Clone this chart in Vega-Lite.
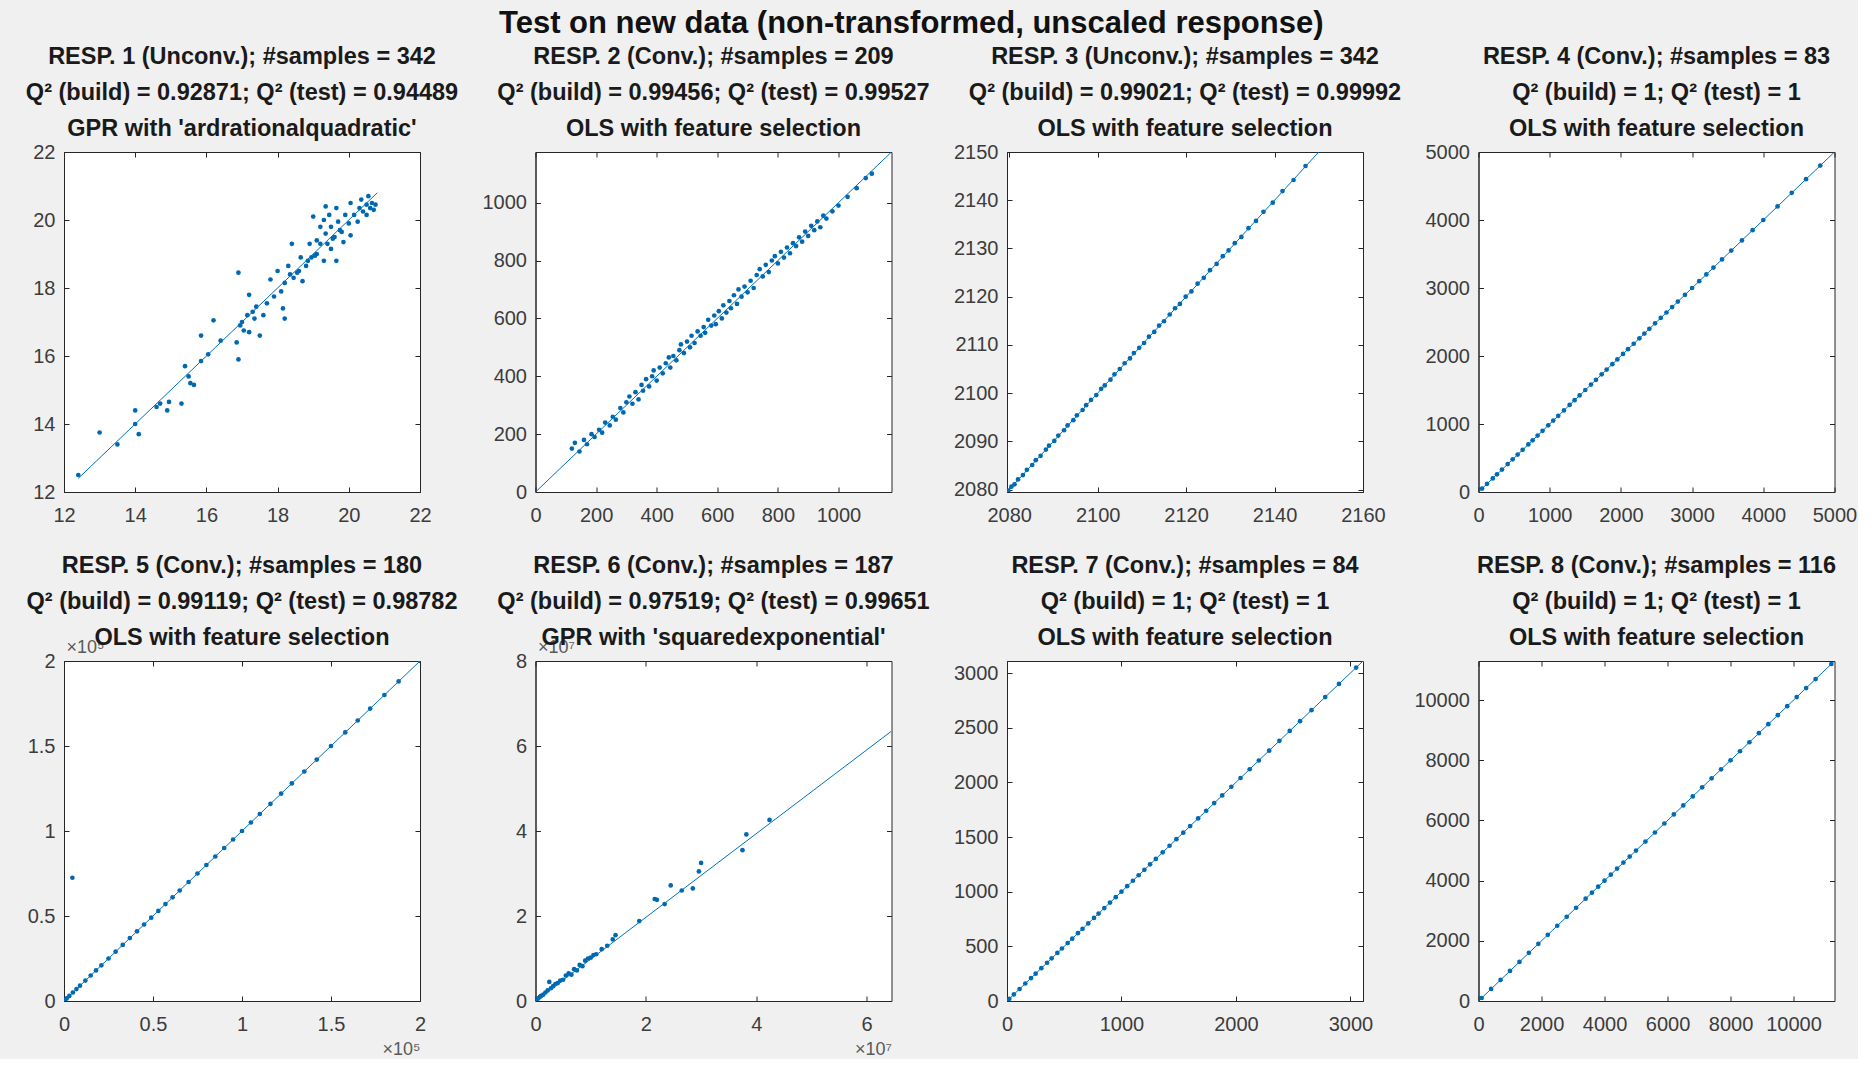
{
  "$schema": "https://vega.github.io/schema/vega-lite/v6.json",
  "background": "#f0f0f0",
  "padding": {"left": 25, "top": 8, "right": 0, "bottom": 0},
  "title": {
    "text": "Test on new data (non-transformed, unscaled response)",
    "fontSize": 31,
    "color": "#111111",
    "anchor": "middle",
    "frame": "bounds",
    "offset": 4,
    "dx": -30
  },
  "config": {
    "font": "Liberation Sans",
    "view": {"stroke": "#262626", "strokeWidth": 1, "fill": "white"},
    "title": {"font": "Liberation Sans", "fontSize": 23.5, "fontWeight": "bold", "color": "#1a1a1a", "lineHeight": 36, "offset": -12.5, "frame": "group"},
    "axis": {
      "grid": false,
      "domainColor": "#262626",
      "tickColor": "#262626",
      "tickSize": -5,
      "labelFont": "Liberation Sans",
      "labelFontSize": 20,
      "labelColor": "#3c3c3c",
      "labelFlush": false,
      "labelOverlap": false,
      "titleFont": "Liberation Sans",
      "titleFontWeight": "normal",
      "titleFontSize": 18,
      "titleColor": "#5a5a5a"
    },
    "axisX": {"labelPadding": 18},
    "axisY": {"labelPadding": 14},
    "axisTop": {"titleOpacity": 0, "titleFontSize": 4, "titlePadding": 20}
  },
  "datasets": {
    "diag": [
      {"p": 1, "x": 12.4, "y": 12.4}, {"p": 1, "x": 20.8, "y": 20.8},
      {"p": 2, "x": 0, "y": 0}, {"p": 2, "x": 1175, "y": 1175},
      {"p": 3, "x": 2079.5, "y": 2079.5}, {"p": 3, "x": 2150, "y": 2150},
      {"p": 4, "x": 0, "y": 0}, {"p": 4, "x": 5000, "y": 5000},
      {"p": 5, "x": 0, "y": 0}, {"p": 5, "x": 200000, "y": 200000},
      {"p": 6, "x": 0, "y": 0}, {"p": 6, "x": 64500000, "y": 63500000},
      {"p": 7, "x": 0, "y": 0}, {"p": 7, "x": 3110, "y": 3110},
      {"p": 8, "x": 0, "y": 0}, {"p": 8, "x": 11300, "y": 11300}
    ],
    "pts": [
      {"p":1,"x":12.4,"y":12.5},{"p":1,"x":13.0,"y":13.75},{"p":1,"x":13.5,"y":13.4},{"p":1,"x":14.0,"y":14.4},{"p":1,"x":14.0,"y":14.0},{"p":1,"x":14.1,"y":13.7},{"p":1,"x":14.6,"y":14.5},{"p":1,"x":14.7,"y":14.6},{"p":1,"x":14.9,"y":14.4},{"p":1,"x":14.95,"y":14.65},{"p":1,"x":15.3,"y":14.6},{"p":1,"x":15.4,"y":15.7},{"p":1,"x":15.5,"y":15.4},{"p":1,"x":15.55,"y":15.2},{"p":1,"x":15.65,"y":15.15},{"p":1,"x":15.85,"y":15.85},{"p":1,"x":15.85,"y":16.6},{"p":1,"x":16.05,"y":16.05},{"p":1,"x":16.2,"y":17.05},{"p":1,"x":16.4,"y":16.45},{"p":1,"x":16.9,"y":18.45},{"p":1,"x":16.9,"y":15.9},{"p":1,"x":16.85,"y":16.4},{"p":1,"x":17.0,"y":17.0},{"p":1,"x":17.05,"y":16.75},{"p":1,"x":17.15,"y":17.2},{"p":1,"x":17.2,"y":17.8},{"p":1,"x":17.2,"y":16.7},{"p":1,"x":17.35,"y":17.1},{"p":1,"x":17.4,"y":17.45},{"p":1,"x":17.5,"y":16.6},{"p":1,"x":17.6,"y":17.2},{"p":1,"x":17.7,"y":17.55},{"p":1,"x":17.8,"y":18.25},{"p":1,"x":17.9,"y":17.75},{"p":1,"x":18.0,"y":18.5},{"p":1,"x":18.1,"y":17.9},{"p":1,"x":18.15,"y":17.4},{"p":1,"x":18.2,"y":17.1},{"p":1,"x":18.2,"y":18.15},{"p":1,"x":18.3,"y":18.65},{"p":1,"x":18.4,"y":19.3},{"p":1,"x":18.45,"y":18.3},{"p":1,"x":18.55,"y":18.45},{"p":1,"x":18.65,"y":18.9},{"p":1,"x":18.7,"y":18.2},{"p":1,"x":18.8,"y":18.65},{"p":1,"x":18.9,"y":19.3},{"p":1,"x":18.95,"y":18.9},{"p":1,"x":19.0,"y":20.1},{"p":1,"x":19.1,"y":19.4},{"p":1,"x":19.1,"y":19.0},{"p":1,"x":19.2,"y":19.8},{"p":1,"x":19.2,"y":19.3},{"p":1,"x":19.3,"y":20.0},{"p":1,"x":19.3,"y":18.8},{"p":1,"x":19.35,"y":19.6},{"p":1,"x":19.45,"y":20.15},{"p":1,"x":19.5,"y":19.15},{"p":1,"x":19.5,"y":19.8},{"p":1,"x":19.6,"y":19.5},{"p":1,"x":19.65,"y":20.35},{"p":1,"x":19.65,"y":18.8},{"p":1,"x":19.7,"y":19.95},{"p":1,"x":19.8,"y":19.65},{"p":1,"x":19.85,"y":19.35},{"p":1,"x":19.9,"y":20.15},{"p":1,"x":20.0,"y":19.9},{"p":1,"x":20.05,"y":20.5},{"p":1,"x":20.05,"y":19.55},{"p":1,"x":20.15,"y":20.15},{"p":1,"x":20.25,"y":19.95},{"p":1,"x":20.3,"y":20.35},{"p":1,"x":20.35,"y":20.6},{"p":1,"x":20.4,"y":20.25},{"p":1,"x":20.5,"y":20.45},{"p":1,"x":20.5,"y":20.15},{"p":1,"x":20.55,"y":20.7},{"p":1,"x":20.6,"y":20.35},{"p":1,"x":20.65,"y":20.5},{"p":1,"x":20.7,"y":20.3},{"p":1,"x":20.75,"y":20.45},{"p":1,"x":19.35,"y":20.4},{"p":1,"x":18.6,"y":18.5},{"p":1,"x":18.85,"y":18.8},{"p":1,"x":19.05,"y":18.95},{"p":1,"x":19.4,"y":19.3},{"p":1,"x":19.55,"y":19.45},{"p":1,"x":19.75,"y":19.7},{"p":1,"x":17.3,"y":17.3},{"p":1,"x":16.95,"y":16.9},{"p":1,"x":18.35,"y":18.4},

      {"p":2,"x":120,"y":150},{"p":2,"x":130,"y":170},{"p":2,"x":145,"y":140},{"p":2,"x":160,"y":180},{"p":2,"x":170,"y":165},{"p":2,"x":185,"y":200},{"p":2,"x":195,"y":190},{"p":2,"x":210,"y":215},{"p":2,"x":220,"y":205},{"p":2,"x":230,"y":240},{"p":2,"x":245,"y":230},{"p":2,"x":255,"y":260},{"p":2,"x":265,"y":250},{"p":2,"x":280,"y":290},{"p":2,"x":290,"y":275},{"p":2,"x":300,"y":310},{"p":2,"x":310,"y":330},{"p":2,"x":320,"y":305},{"p":2,"x":330,"y":345},{"p":2,"x":340,"y":320},{"p":2,"x":350,"y":370},{"p":2,"x":355,"y":350},{"p":2,"x":365,"y":390},{"p":2,"x":375,"y":365},{"p":2,"x":385,"y":400},{"p":2,"x":390,"y":420},{"p":2,"x":400,"y":385},{"p":2,"x":410,"y":430},{"p":2,"x":420,"y":410},{"p":2,"x":430,"y":445},{"p":2,"x":440,"y":465},{"p":2,"x":445,"y":430},{"p":2,"x":455,"y":470},{"p":2,"x":465,"y":455},{"p":2,"x":475,"y":490},{"p":2,"x":480,"y":510},{"p":2,"x":490,"y":480},{"p":2,"x":500,"y":520},{"p":2,"x":510,"y":500},{"p":2,"x":515,"y":540},{"p":2,"x":525,"y":515},{"p":2,"x":535,"y":555},{"p":2,"x":545,"y":540},{"p":2,"x":555,"y":570},{"p":2,"x":560,"y":550},{"p":2,"x":570,"y":595},{"p":2,"x":580,"y":575},{"p":2,"x":590,"y":610},{"p":2,"x":595,"y":580},{"p":2,"x":605,"y":625},{"p":2,"x":615,"y":600},{"p":2,"x":620,"y":645},{"p":2,"x":630,"y":620},{"p":2,"x":640,"y":660},{"p":2,"x":645,"y":635},{"p":2,"x":655,"y":680},{"p":2,"x":665,"y":650},{"p":2,"x":670,"y":700},{"p":2,"x":680,"y":675},{"p":2,"x":690,"y":710},{"p":2,"x":700,"y":690},{"p":2,"x":710,"y":730},{"p":2,"x":720,"y":705},{"p":2,"x":730,"y":750},{"p":2,"x":740,"y":770},{"p":2,"x":750,"y":745},{"p":2,"x":760,"y":785},{"p":2,"x":770,"y":760},{"p":2,"x":780,"y":800},{"p":2,"x":790,"y":815},{"p":2,"x":800,"y":790},{"p":2,"x":810,"y":830},{"p":2,"x":820,"y":810},{"p":2,"x":830,"y":845},{"p":2,"x":840,"y":825},{"p":2,"x":850,"y":860},{"p":2,"x":860,"y":850},{"p":2,"x":870,"y":880},{"p":2,"x":880,"y":865},{"p":2,"x":890,"y":900},{"p":2,"x":900,"y":885},{"p":2,"x":910,"y":920},{"p":2,"x":920,"y":905},{"p":2,"x":930,"y":935},{"p":2,"x":940,"y":915},{"p":2,"x":950,"y":955},{"p":2,"x":960,"y":945},{"p":2,"x":980,"y":970},{"p":2,"x":1000,"y":990},{"p":2,"x":1030,"y":1020},{"p":2,"x":1060,"y":1050},{"p":2,"x":1090,"y":1085},{"p":2,"x":1110,"y":1100},

      {"p":3,"x":2079.8,"y":2079.8},{"p":3,"x":2080.5,"y":2080.6},{"p":3,"x":2081.2,"y":2081.1},{"p":3,"x":2082.0,"y":2082.1},{"p":3,"x":2083.1,"y":2083.0},{"p":3,"x":2084.0,"y":2084.1},{"p":3,"x":2085.2,"y":2085.1},{"p":3,"x":2086.0,"y":2086.1},{"p":3,"x":2087.1,"y":2087.0},{"p":3,"x":2088.3,"y":2088.3},{"p":3,"x":2089.0,"y":2089.1},{"p":3,"x":2090.2,"y":2090.1},{"p":3,"x":2091.1,"y":2091.2},{"p":3,"x":2092.4,"y":2092.3},{"p":3,"x":2093.2,"y":2093.3},{"p":3,"x":2094.5,"y":2094.4},{"p":3,"x":2095.3,"y":2095.4},{"p":3,"x":2096.6,"y":2096.5},{"p":3,"x":2097.4,"y":2097.5},{"p":3,"x":2098.5,"y":2098.6},{"p":3,"x":2099.7,"y":2099.6},{"p":3,"x":2100.8,"y":2100.9},{"p":3,"x":2101.6,"y":2101.6},{"p":3,"x":2102.9,"y":2102.8},{"p":3,"x":2103.8,"y":2103.9},{"p":3,"x":2105.0,"y":2105.0},{"p":3,"x":2106.1,"y":2106.2},{"p":3,"x":2107.3,"y":2107.2},{"p":3,"x":2108.2,"y":2108.3},{"p":3,"x":2109.4,"y":2109.4},{"p":3,"x":2110.5,"y":2110.4},{"p":3,"x":2111.6,"y":2111.7},{"p":3,"x":2112.8,"y":2112.7},{"p":3,"x":2113.9,"y":2114.0},{"p":3,"x":2115.0,"y":2114.9},{"p":3,"x":2116.3,"y":2116.3},{"p":3,"x":2117.5,"y":2117.6},{"p":3,"x":2118.6,"y":2118.5},{"p":3,"x":2119.9,"y":2120.0},{"p":3,"x":2121.2,"y":2121.1},{"p":3,"x":2122.6,"y":2122.7},{"p":3,"x":2124.0,"y":2123.9},{"p":3,"x":2125.4,"y":2125.5},{"p":3,"x":2126.9,"y":2126.8},{"p":3,"x":2128.3,"y":2128.4},{"p":3,"x":2129.6,"y":2129.6},{"p":3,"x":2131.0,"y":2131.1},{"p":3,"x":2132.5,"y":2132.4},{"p":3,"x":2134.1,"y":2134.2},{"p":3,"x":2135.8,"y":2135.7},{"p":3,"x":2137.5,"y":2137.6},{"p":3,"x":2139.6,"y":2139.5},{"p":3,"x":2141.8,"y":2141.9},{"p":3,"x":2144.3,"y":2144.2},{"p":3,"x":2147.0,"y":2147.1},

      {"p":4,"x":50,"y":50},{"p":4,"x":120,"y":120},{"p":4,"x":200,"y":200},{"p":4,"x":260,"y":260},{"p":4,"x":330,"y":330},{"p":4,"x":410,"y":410},{"p":4,"x":480,"y":480},{"p":4,"x":550,"y":550},{"p":4,"x":620,"y":620},{"p":4,"x":700,"y":700},{"p":4,"x":760,"y":760},{"p":4,"x":830,"y":830},{"p":4,"x":900,"y":900},{"p":4,"x":980,"y":980},{"p":4,"x":1050,"y":1050},{"p":4,"x":1120,"y":1120},{"p":4,"x":1200,"y":1200},{"p":4,"x":1280,"y":1280},{"p":4,"x":1350,"y":1350},{"p":4,"x":1420,"y":1420},{"p":4,"x":1500,"y":1500},{"p":4,"x":1580,"y":1580},{"p":4,"x":1650,"y":1650},{"p":4,"x":1730,"y":1730},{"p":4,"x":1800,"y":1800},{"p":4,"x":1880,"y":1880},{"p":4,"x":1950,"y":1950},{"p":4,"x":2030,"y":2030},{"p":4,"x":2100,"y":2100},{"p":4,"x":2180,"y":2180},{"p":4,"x":2260,"y":2260},{"p":4,"x":2330,"y":2330},{"p":4,"x":2400,"y":2400},{"p":4,"x":2480,"y":2480},{"p":4,"x":2560,"y":2560},{"p":4,"x":2640,"y":2640},{"p":4,"x":2720,"y":2720},{"p":4,"x":2800,"y":2800},{"p":4,"x":2900,"y":2900},{"p":4,"x":3000,"y":3000},{"p":4,"x":3100,"y":3100},{"p":4,"x":3200,"y":3200},{"p":4,"x":3300,"y":3300},{"p":4,"x":3420,"y":3420},{"p":4,"x":3550,"y":3550},{"p":4,"x":3700,"y":3700},{"p":4,"x":3850,"y":3850},{"p":4,"x":4000,"y":4000},{"p":4,"x":4200,"y":4200},{"p":4,"x":4400,"y":4400},{"p":4,"x":4600,"y":4600},{"p":4,"x":4800,"y":4800},

      {"p":5,"x":500,"y":500},{"p":5,"x":1500,"y":1500},{"p":5,"x":3000,"y":3000},{"p":5,"x":5000,"y":5000},{"p":5,"x":7000,"y":7000},{"p":5,"x":9000,"y":9000},{"p":5,"x":12000,"y":12000},{"p":5,"x":15000,"y":15000},{"p":5,"x":18000,"y":18000},{"p":5,"x":21000,"y":21000},{"p":5,"x":25000,"y":25000},{"p":5,"x":29000,"y":29000},{"p":5,"x":33000,"y":33000},{"p":5,"x":37000,"y":37000},{"p":5,"x":41000,"y":41000},{"p":5,"x":45000,"y":45000},{"p":5,"x":49000,"y":49000},{"p":5,"x":53000,"y":53000},{"p":5,"x":57000,"y":57000},{"p":5,"x":61000,"y":61000},{"p":5,"x":65000,"y":65000},{"p":5,"x":70000,"y":70000},{"p":5,"x":75000,"y":75000},{"p":5,"x":80000,"y":80000},{"p":5,"x":85000,"y":85000},{"p":5,"x":90000,"y":90000},{"p":5,"x":95000,"y":95000},{"p":5,"x":100000,"y":100000},{"p":5,"x":105000,"y":105000},{"p":5,"x":110000,"y":110000},{"p":5,"x":116000,"y":116000},{"p":5,"x":122000,"y":122000},{"p":5,"x":128000,"y":128000},{"p":5,"x":135000,"y":135000},{"p":5,"x":142000,"y":142000},{"p":5,"x":150000,"y":150000},{"p":5,"x":158000,"y":158000},{"p":5,"x":165000,"y":165000},{"p":5,"x":172000,"y":172000},{"p":5,"x":180000,"y":180000},{"p":5,"x":188000,"y":188000},{"p":5,"x":200000,"y":200000},{"p":5,"x":4700,"y":72500},

      {"p":6,"x":200000,"y":300000},{"p":6,"x":500000,"y":600000},{"p":6,"x":800000,"y":1000000},{"p":6,"x":1000000,"y":1200000},{"p":6,"x":1400000,"y":1500000},{"p":6,"x":1800000,"y":2000000},{"p":6,"x":2200000,"y":2500000},{"p":6,"x":2500000,"y":4500000},{"p":6,"x":2800000,"y":3000000},{"p":6,"x":3200000,"y":3500000},{"p":6,"x":3600000,"y":4000000},{"p":6,"x":4000000,"y":4200000},{"p":6,"x":4500000,"y":4800000},{"p":6,"x":5000000,"y":5000000},{"p":6,"x":5500000,"y":6000000},{"p":6,"x":6000000,"y":6500000},{"p":6,"x":6500000,"y":6200000},{"p":6,"x":7000000,"y":7500000},{"p":6,"x":7500000,"y":7200000},{"p":6,"x":8000000,"y":8500000},{"p":6,"x":8500000,"y":8200000},{"p":6,"x":9000000,"y":9500000},{"p":6,"x":9500000,"y":10000000},{"p":6,"x":10000000,"y":10200000},{"p":6,"x":10500000,"y":10800000},{"p":6,"x":11000000,"y":11000000},{"p":6,"x":12000000,"y":12200000},{"p":6,"x":13000000,"y":13000000},{"p":6,"x":14000000,"y":14500000},{"p":6,"x":14500000,"y":15500000},{"p":6,"x":18800000,"y":18800000},{"p":6,"x":21600000,"y":24000000},{"p":6,"x":22000000,"y":23800000},{"p":6,"x":23400000,"y":22800000},{"p":6,"x":24500000,"y":27200000},{"p":6,"x":26500000,"y":26000000},{"p":6,"x":28500000,"y":26500000},{"p":6,"x":29600000,"y":30500000},{"p":6,"x":30000000,"y":32500000},{"p":6,"x":37500000,"y":35500000},{"p":6,"x":38200000,"y":39200000},{"p":6,"x":42400000,"y":42600000},

      {"p":7,"x":20,"y":20},{"p":7,"x":60,"y":60},{"p":7,"x":110,"y":110},{"p":7,"x":160,"y":160},{"p":7,"x":210,"y":210},{"p":7,"x":250,"y":250},{"p":7,"x":300,"y":300},{"p":7,"x":350,"y":350},{"p":7,"x":390,"y":390},{"p":7,"x":440,"y":440},{"p":7,"x":480,"y":480},{"p":7,"x":530,"y":530},{"p":7,"x":570,"y":570},{"p":7,"x":620,"y":620},{"p":7,"x":660,"y":660},{"p":7,"x":710,"y":710},{"p":7,"x":760,"y":760},{"p":7,"x":800,"y":800},{"p":7,"x":850,"y":850},{"p":7,"x":900,"y":900},{"p":7,"x":950,"y":950},{"p":7,"x":1000,"y":1000},{"p":7,"x":1050,"y":1050},{"p":7,"x":1100,"y":1100},{"p":7,"x":1150,"y":1150},{"p":7,"x":1200,"y":1200},{"p":7,"x":1250,"y":1250},{"p":7,"x":1300,"y":1300},{"p":7,"x":1360,"y":1360},{"p":7,"x":1420,"y":1420},{"p":7,"x":1480,"y":1480},{"p":7,"x":1540,"y":1540},{"p":7,"x":1600,"y":1600},{"p":7,"x":1670,"y":1670},{"p":7,"x":1740,"y":1740},{"p":7,"x":1810,"y":1810},{"p":7,"x":1880,"y":1880},{"p":7,"x":1960,"y":1960},{"p":7,"x":2040,"y":2040},{"p":7,"x":2120,"y":2120},{"p":7,"x":2200,"y":2200},{"p":7,"x":2290,"y":2290},{"p":7,"x":2380,"y":2380},{"p":7,"x":2470,"y":2470},{"p":7,"x":2560,"y":2560},{"p":7,"x":2660,"y":2660},{"p":7,"x":2780,"y":2780},{"p":7,"x":2900,"y":2900},{"p":7,"x":3050,"y":3050},

      {"p":8,"x":100,"y":100},{"p":8,"x":400,"y":400},{"p":8,"x":700,"y":700},{"p":8,"x":1000,"y":1000},{"p":8,"x":1300,"y":1300},{"p":8,"x":1600,"y":1600},{"p":8,"x":1900,"y":1900},{"p":8,"x":2200,"y":2200},{"p":8,"x":2500,"y":2500},{"p":8,"x":2800,"y":2800},{"p":8,"x":3100,"y":3100},{"p":8,"x":3400,"y":3400},{"p":8,"x":3600,"y":3600},{"p":8,"x":3800,"y":3800},{"p":8,"x":4000,"y":4000},{"p":8,"x":4200,"y":4200},{"p":8,"x":4400,"y":4400},{"p":8,"x":4600,"y":4600},{"p":8,"x":4800,"y":4800},{"p":8,"x":5000,"y":5000},{"p":8,"x":5300,"y":5300},{"p":8,"x":5600,"y":5600},{"p":8,"x":5900,"y":5900},{"p":8,"x":6200,"y":6200},{"p":8,"x":6500,"y":6500},{"p":8,"x":6800,"y":6800},{"p":8,"x":7100,"y":7100},{"p":8,"x":7400,"y":7400},{"p":8,"x":7700,"y":7700},{"p":8,"x":8000,"y":8000},{"p":8,"x":8300,"y":8300},{"p":8,"x":8600,"y":8600},{"p":8,"x":8900,"y":8900},{"p":8,"x":9200,"y":9200},{"p":8,"x":9500,"y":9500},{"p":8,"x":9800,"y":9800},{"p":8,"x":10100,"y":10100},{"p":8,"x":10400,"y":10400},{"p":8,"x":10700,"y":10700},{"p":8,"x":11200,"y":11200}
    ]
  },
  "columns": 4,
  "spacing": {"row": 169, "column": 115.5},
  "bounds": "flush",
  "concat": [
    {
      "title": {"text": ["RESP. 1 (Unconv.); #samples = 342", "Q² (build) = 0.92871; Q² (test) = 0.94489", "GPR with 'ardrationalquadratic'"]},
      "width": 356, "height": 340,
      "resolve": {"axis": {"x": "independent", "y": "independent"}},
      "layer": [
        {"data": {"name": "pts"}, "transform": [{"filter": "datum.p == 1"}],
         "mark": {"type": "point", "filled": true, "size": 22, "opacity": 1, "color": "#0068b0", "clip": true},
         "encoding": {
           "x": {"field": "x", "type": "quantitative", "title": null, "scale": {"domain": [12, 22], "nice": false, "zero": false}, "axis": {"values": [12, 14, 16, 18, 20, 22], "format": "d"}},
           "y": {"field": "y", "type": "quantitative", "title": null, "scale": {"domain": [12, 22], "nice": false, "zero": false}, "axis": {"values": [12, 14, 16, 18, 20, 22], "format": "d"}}}},
        {"data": {"name": "diag"}, "transform": [{"filter": "datum.p == 1"}],
         "mark": {"type": "line", "color": "#0072BD", "strokeWidth": 1, "clip": true},
         "encoding": {
           "x": {"field": "x", "type": "quantitative", "title": ".", "axis": {"orient": "top", "labels": false, "domain": false, "values": [12, 14, 16, 18, 20, 22]}},
           "y": {"field": "y", "type": "quantitative", "title": null, "axis": {"orient": "right", "labels": false, "domain": false, "values": [12, 14, 16, 18, 20, 22]}}}}
      ]
    },
    {
      "title": {"text": ["RESP. 2 (Conv.); #samples = 209", "Q² (build) = 0.99456; Q² (test) = 0.99527", "OLS with feature selection"]},
      "width": 356, "height": 340,
      "resolve": {"axis": {"x": "independent", "y": "independent"}},
      "layer": [
        {"data": {"name": "pts"}, "transform": [{"filter": "datum.p == 2"}],
         "mark": {"type": "point", "filled": true, "size": 22, "opacity": 1, "color": "#0068b0", "clip": true},
         "encoding": {
           "x": {"field": "x", "type": "quantitative", "title": null, "scale": {"domain": [0, 1175], "nice": false}, "axis": {"values": [0, 200, 400, 600, 800, 1000], "format": "d"}},
           "y": {"field": "y", "type": "quantitative", "title": null, "scale": {"domain": [0, 1175], "nice": false}, "axis": {"values": [0, 200, 400, 600, 800, 1000], "format": "d"}}}},
        {"data": {"name": "diag"}, "transform": [{"filter": "datum.p == 2"}],
         "mark": {"type": "line", "color": "#0072BD", "strokeWidth": 1, "clip": true},
         "encoding": {
           "x": {"field": "x", "type": "quantitative", "title": ".", "axis": {"orient": "top", "labels": false, "domain": false, "values": [0, 200, 400, 600, 800, 1000]}},
           "y": {"field": "y", "type": "quantitative", "title": null, "axis": {"orient": "right", "labels": false, "domain": false, "values": [0, 200, 400, 600, 800, 1000]}}}}
      ]
    },
    {
      "title": {"text": ["RESP. 3 (Unconv.); #samples = 342", "Q² (build) = 0.99021; Q² (test) = 0.99992", "OLS with feature selection"]},
      "width": 356, "height": 340,
      "resolve": {"axis": {"x": "independent", "y": "independent"}},
      "layer": [
        {"data": {"name": "pts"}, "transform": [{"filter": "datum.p == 3"}],
         "mark": {"type": "point", "filled": true, "size": 22, "opacity": 1, "color": "#0068b0", "clip": true},
         "encoding": {
           "x": {"field": "x", "type": "quantitative", "title": null, "scale": {"domain": [2079.5, 2160], "nice": false, "zero": false}, "axis": {"values": [2080, 2100, 2120, 2140, 2160], "format": "d"}},
           "y": {"field": "y", "type": "quantitative", "title": null, "scale": {"domain": [2079.5, 2150], "nice": false, "zero": false}, "axis": {"values": [2080, 2090, 2100, 2110, 2120, 2130, 2140, 2150], "format": "d"}}}},
        {"data": {"name": "diag"}, "transform": [{"filter": "datum.p == 3"}],
         "mark": {"type": "line", "color": "#0072BD", "strokeWidth": 1, "clip": true},
         "encoding": {
           "x": {"field": "x", "type": "quantitative", "title": ".", "axis": {"orient": "top", "labels": false, "domain": false, "values": [2080, 2100, 2120, 2140, 2160]}},
           "y": {"field": "y", "type": "quantitative", "title": null, "axis": {"orient": "right", "labels": false, "domain": false, "values": [2080, 2090, 2100, 2110, 2120, 2130, 2140, 2150]}}}}
      ]
    },
    {
      "title": {"text": ["RESP. 4 (Conv.); #samples = 83", "Q² (build) = 1; Q² (test) = 1", "OLS with feature selection"]},
      "width": 356, "height": 340,
      "resolve": {"axis": {"x": "independent", "y": "independent"}},
      "layer": [
        {"data": {"name": "pts"}, "transform": [{"filter": "datum.p == 4"}],
         "mark": {"type": "point", "filled": true, "size": 22, "opacity": 1, "color": "#0068b0", "clip": true},
         "encoding": {
           "x": {"field": "x", "type": "quantitative", "title": null, "scale": {"domain": [0, 5000], "nice": false}, "axis": {"values": [0, 1000, 2000, 3000, 4000, 5000], "format": "d"}},
           "y": {"field": "y", "type": "quantitative", "title": null, "scale": {"domain": [0, 5000], "nice": false}, "axis": {"values": [0, 1000, 2000, 3000, 4000, 5000], "format": "d"}}}},
        {"data": {"name": "diag"}, "transform": [{"filter": "datum.p == 4"}],
         "mark": {"type": "line", "color": "#0072BD", "strokeWidth": 1, "clip": true},
         "encoding": {
           "x": {"field": "x", "type": "quantitative", "title": ".", "axis": {"orient": "top", "labels": false, "domain": false, "values": [0, 1000, 2000, 3000, 4000, 5000]}},
           "y": {"field": "y", "type": "quantitative", "title": null, "axis": {"orient": "right", "labels": false, "domain": false, "values": [0, 1000, 2000, 3000, 4000, 5000]}}}}
      ]
    },
    {
      "title": {"text": ["RESP. 5 (Conv.); #samples = 180", "Q² (build) = 0.99119; Q² (test) = 0.98782", "OLS with feature selection"]},
      "width": 356, "height": 340,
      "resolve": {"axis": {"x": "independent", "y": "independent"}},
      "layer": [
        {"data": {"name": "pts"}, "transform": [{"filter": "datum.p == 5"}],
         "mark": {"type": "point", "filled": true, "size": 22, "opacity": 1, "color": "#0068b0", "clip": true},
         "encoding": {
           "x": {"field": "x", "type": "quantitative", "title": "×10⁵", "scale": {"domain": [0, 200000], "nice": false}, "axis": {"values": [0, 50000, 100000, 150000, 200000], "labelExpr": "format(datum.value / 100000, '~g')", "titleAnchor": "end", "titleAlign": "right", "titlePadding": 6}},
           "y": {"field": "y", "type": "quantitative", "title": "×10⁵", "scale": {"domain": [0, 200000], "nice": false}, "axis": {"values": [0, 50000, 100000, 150000, 200000], "labelExpr": "format(datum.value / 100000, '~g')", "titleAngle": 0, "titleAlign": "left", "titleBaseline": "bottom", "titleX": 2, "titleY": -5}}}},
        {"data": {"name": "diag"}, "transform": [{"filter": "datum.p == 5"}],
         "mark": {"type": "line", "color": "#0072BD", "strokeWidth": 1, "clip": true},
         "encoding": {
           "x": {"field": "x", "type": "quantitative", "title": ".", "axis": {"orient": "top", "labels": false, "domain": false, "values": [0, 50000, 100000, 150000, 200000]}},
           "y": {"field": "y", "type": "quantitative", "title": null, "axis": {"orient": "right", "labels": false, "domain": false, "values": [0, 50000, 100000, 150000, 200000]}}}}
      ]
    },
    {
      "title": {"text": ["RESP. 6 (Conv.); #samples = 187", "Q² (build) = 0.97519; Q² (test) = 0.99651", "GPR with 'squaredexponential'"]},
      "width": 356, "height": 340,
      "resolve": {"axis": {"x": "independent", "y": "independent"}},
      "layer": [
        {"data": {"name": "pts"}, "transform": [{"filter": "datum.p == 6"}],
         "mark": {"type": "point", "filled": true, "size": 22, "opacity": 1, "color": "#0068b0", "clip": true},
         "encoding": {
           "x": {"field": "x", "type": "quantitative", "title": "×10⁷", "scale": {"domain": [0, 64500000], "nice": false}, "axis": {"values": [0, 20000000, 40000000, 60000000], "labelExpr": "format(datum.value / 10000000, '~g')", "titleAnchor": "end", "titleAlign": "right", "titlePadding": 6}},
           "y": {"field": "y", "type": "quantitative", "title": "×10⁷", "scale": {"domain": [0, 80000000], "nice": false}, "axis": {"values": [0, 20000000, 40000000, 60000000, 80000000], "labelExpr": "format(datum.value / 10000000, '~g')", "titleAngle": 0, "titleAlign": "left", "titleBaseline": "bottom", "titleX": 2, "titleY": -5}}}},
        {"data": {"name": "diag"}, "transform": [{"filter": "datum.p == 6"}],
         "mark": {"type": "line", "color": "#0072BD", "strokeWidth": 1, "clip": true},
         "encoding": {
           "x": {"field": "x", "type": "quantitative", "title": ".", "axis": {"orient": "top", "labels": false, "domain": false, "values": [0, 20000000, 40000000, 60000000]}},
           "y": {"field": "y", "type": "quantitative", "title": null, "axis": {"orient": "right", "labels": false, "domain": false, "values": [0, 20000000, 40000000, 60000000, 80000000]}}}}
      ]
    },
    {
      "title": {"text": ["RESP. 7 (Conv.); #samples = 84", "Q² (build) = 1; Q² (test) = 1", "OLS with feature selection"]},
      "width": 356, "height": 340,
      "resolve": {"axis": {"x": "independent", "y": "independent"}},
      "layer": [
        {"data": {"name": "pts"}, "transform": [{"filter": "datum.p == 7"}],
         "mark": {"type": "point", "filled": true, "size": 22, "opacity": 1, "color": "#0068b0", "clip": true},
         "encoding": {
           "x": {"field": "x", "type": "quantitative", "title": null, "scale": {"domain": [0, 3110], "nice": false}, "axis": {"values": [0, 1000, 2000, 3000], "format": "d"}},
           "y": {"field": "y", "type": "quantitative", "title": null, "scale": {"domain": [0, 3110], "nice": false}, "axis": {"values": [0, 500, 1000, 1500, 2000, 2500, 3000], "format": "d"}}}},
        {"data": {"name": "diag"}, "transform": [{"filter": "datum.p == 7"}],
         "mark": {"type": "line", "color": "#0072BD", "strokeWidth": 1, "clip": true},
         "encoding": {
           "x": {"field": "x", "type": "quantitative", "title": ".", "axis": {"orient": "top", "labels": false, "domain": false, "values": [0, 1000, 2000, 3000]}},
           "y": {"field": "y", "type": "quantitative", "title": null, "axis": {"orient": "right", "labels": false, "domain": false, "values": [0, 500, 1000, 1500, 2000, 2500, 3000]}}}}
      ]
    },
    {
      "title": {"text": ["RESP. 8 (Conv.); #samples = 116", "Q² (build) = 1; Q² (test) = 1", "OLS with feature selection"]},
      "width": 356, "height": 340,
      "resolve": {"axis": {"x": "independent", "y": "independent"}},
      "layer": [
        {"data": {"name": "pts"}, "transform": [{"filter": "datum.p == 8"}],
         "mark": {"type": "point", "filled": true, "size": 22, "opacity": 1, "color": "#0068b0", "clip": true},
         "encoding": {
           "x": {"field": "x", "type": "quantitative", "title": null, "scale": {"domain": [0, 11300], "nice": false}, "axis": {"values": [0, 2000, 4000, 6000, 8000, 10000], "format": "d"}},
           "y": {"field": "y", "type": "quantitative", "title": null, "scale": {"domain": [0, 11300], "nice": false}, "axis": {"values": [0, 2000, 4000, 6000, 8000, 10000], "format": "d"}}}},
        {"data": {"name": "diag"}, "transform": [{"filter": "datum.p == 8"}],
         "mark": {"type": "line", "color": "#0072BD", "strokeWidth": 1, "clip": true},
         "encoding": {
           "x": {"field": "x", "type": "quantitative", "title": ".", "axis": {"orient": "top", "labels": false, "domain": false, "values": [0, 2000, 4000, 6000, 8000, 10000]}},
           "y": {"field": "y", "type": "quantitative", "title": null, "axis": {"orient": "right", "labels": false, "domain": false, "values": [0, 2000, 4000, 6000, 8000, 10000]}}}}
      ]
    }
  ]
}
